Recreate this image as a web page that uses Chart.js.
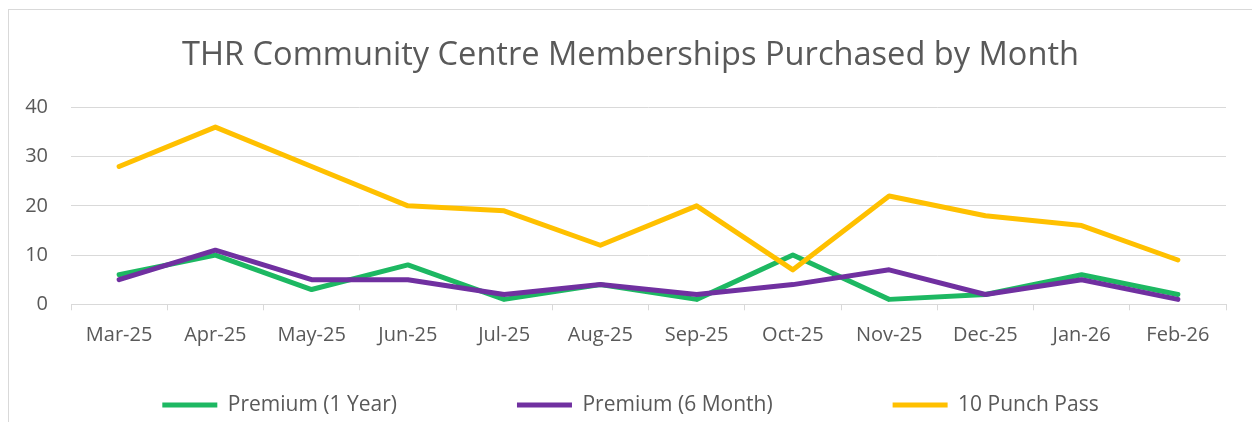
<!DOCTYPE html>
<html>
<head>
<meta charset="utf-8">
<script src="https://cdn.jsdelivr.net/npm/chart.js@4.4.1/dist/chart.umd.min.js"></script>
<style>
  html, body { margin: 0; padding: 0; background: #ffffff; overflow: hidden; }
  #frame { position: absolute; left: 8px; top: 9px; border-left: 1px solid #d9d9d9; border-top: 1px solid #d9d9d9; width: 1260px; height: 430px; }
  canvas { display: block; }
</style>
</head>
<body>
<div id="frame"><canvas id="c" width="1243" height="412"></canvas></div>
<script>
const categories = ["Mar-25","Apr-25","May-25","Jun-25","Jul-25","Aug-25","Sep-25","Oct-25","Nov-25","Dec-25","Jan-26","Feb-26"];
const premium1Year = [6, 10, 3, 8, 1, 4, 1, 10, 1, 2, 6, 2];
const premium6Month = [5, 11, 5, 5, 2, 4, 2, 4, 7, 2, 5, 1];
const punchPass10 = [28, 36, 28, 20, 19, 12, 20, 7, 22, 18, 16, 9];
const yTicks = [0, 10, 20, 30, 40];
const titleText = "THR Community Centre Memberships Purchased by Month";
const seriesNames = ["Premium (1 Year)", "Premium (6 Month)", "10 Punch Pass"];

const textColor = "#595959";
const gridColor = "#d9d9d9";
const FONT = "'Open Sans', 'DejaVu Sans', sans-serif";
const LEGEND_PAD = 120;
const LEGEND_FONT = 21;
const LEGEND_CENTER_Y = 395;

function lineDS(label, data, color, order) {
  return {
    label, data,
    borderColor: color, backgroundColor: color,
    borderWidth: 5, pointRadius: 0, pointHoverRadius: 0,
    tension: 0, fill: false,
    borderCapStyle: 'round', borderJoinStyle: 'round',
    order
  };
}

// Centre the title and legend on the full canvas width, and place the legend row.
const boxAdjust = {
  id: 'boxAdjust',
  afterLayout(chart) {
    const lg = chart.legend;
    if (lg) {
      lg.left = 0;
      lg.right = chart.width;
      lg.top = LEGEND_CENTER_Y - LEGEND_PAD - LEGEND_FONT / 2;
    }
    const tb = chart.titleBlock;
    if (tb) {
      tb.left = 0;
      tb.right = chart.width;
    }
  }
};

new Chart(document.getElementById('c'), {
  type: 'line',
  data: {
    labels: categories,
    datasets: [
      lineDS(seriesNames[0], premium1Year, '#1db862', 2),
      lineDS(seriesNames[1], premium6Month, '#7030a0', 1),
      lineDS(seriesNames[2], punchPass10, '#ffc000', 0)
    ]
  },
  plugins: [boxAdjust],
  options: {
    responsive: false,
    animation: false,
    devicePixelRatio: 1,
    layout: { padding: { left: 0, right: 26, top: 0, bottom: 0 } },
    plugins: {
      title: {
        display: true,
        text: titleText,
        color: textColor,
        font: { family: FONT, size: 32.6, weight: '400', lineHeight: 1.2 },
        padding: { top: 25.9, bottom: 32.4 }
      },
      legend: {
        display: true,
        position: 'bottom',
        maxHeight: 57.7,
        labels: {
          color: textColor,
          font: { family: FONT, size: LEGEND_FONT },
          usePointStyle: true,
          pointStyle: 'line',
          pointStyleWidth: 55,
          padding: LEGEND_PAD,
          sort: (a, b) => a.datasetIndex - b.datasetIndex
        }
      },
      tooltip: { enabled: false }
    },
    scales: {
      x: {
        type: 'category',
        offset: true,
        grid: { display: true, offset: true, drawOnChartArea: false, drawTicks: true, tickLength: 6, color: gridColor, lineWidth: 1 },
        border: { display: true, color: gridColor, width: 1 },
        ticks: { color: textColor, font: { family: FONT, size: 20 }, padding: 13, maxRotation: 0, autoSkip: false },
        afterFit(scale) { scale.height = 60; }
      },
      y: {
        min: 0, max: 40,
        afterBuildTicks(scale) { scale.ticks = yTicks.map(v => ({ value: v })); },
        grid: { color: gridColor, lineWidth: 1, drawTicks: false },
        border: { display: false },
        ticks: { color: textColor, font: { family: FONT, size: 20 }, padding: 23 },
        afterFit(scale) { scale.width = 62; }
      }
    }
  }
});
</script>
</body>
</html>
